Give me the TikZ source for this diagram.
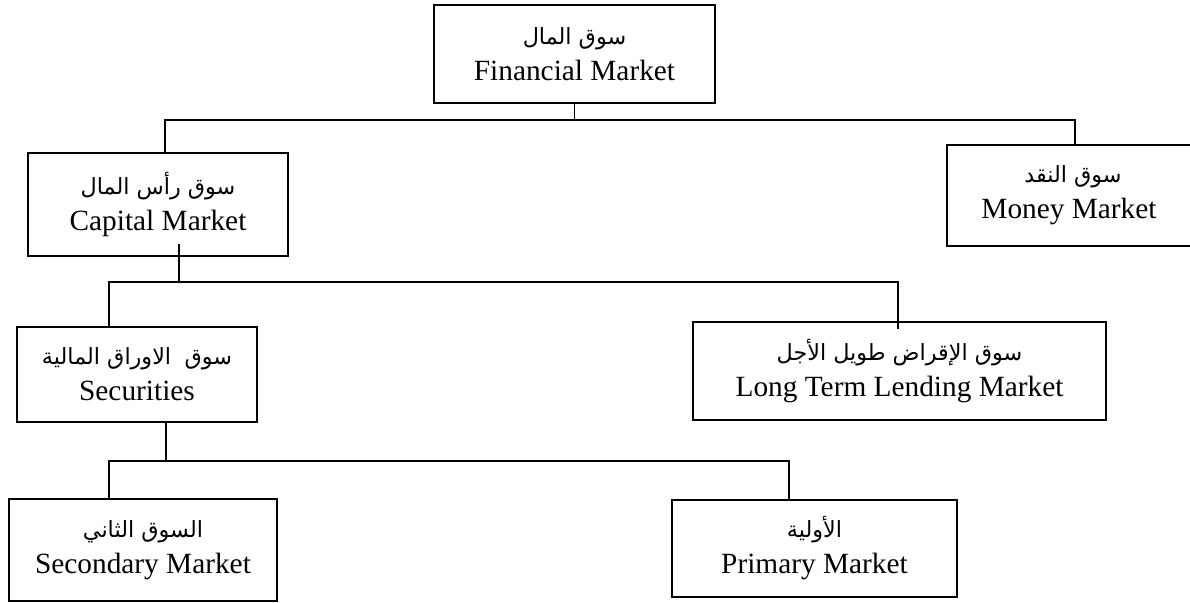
\documentclass[tikz,border=0pt]{standalone}
\usepackage{fontspec}
\setmainfont{Liberation Serif}
\newfontfamily\arabicfont[Script=Arabic,Scale=0.76]{DejaVu Sans}
\TeXXeTstate=1
\newcommand{\ar}[1]{{\arabicfont\beginR #1\endR}}

\tikzset{
  mbox/.style 2 args={draw, line width=1.1pt, rectangle, align=center,
    minimum width=#1*0.75pt, minimum height=#2*0.75pt, inner sep=0pt,
    font=\fontsize{22}{27}\selectfont},
  link/.style={line width=1.1pt}
}

\begin{document}
\begin{tikzpicture}[x=0.75pt,y=0.75pt,yscale=-1,xscale=1]
\useasboundingbox (0,0) rectangle (1190,603);

%Shape: Rectangle
\node (fin) [mbox={281}{98}] at (574.5,54) {\ar{سوق المال}\\Financial Market};
\node (cap) [mbox={260}{103}] at (158,204.5) {\ar{سوق رأس المال}\\Capital Market};
\node (money) [mbox={252}{101}] at (1073,195.5) {\ar{سوق النقد}\\\hspace*{-6pt}Money Market};
\node (sec) [mbox={240}{95}] at (137,374.5) {\ar{سوق\hspace{0.6em}الاوراق المالية}\\Securities};
\node (long) [mbox={413}{98}] at (899.5,371) {\ar{سوق الإقراض طويل الأجل}\\Long Term Lending Market};
\node (scd) [mbox={268}{102}] at (143,550) {\ar{السوق الثاني}\\Secondary Market};
\node (prim) [mbox={285}{97}] at (814.5,548.5) {\ar{الأولية}\\Primary Market};

%Bus points
\coordinate (busL) at (165,120);
\coordinate (busR) at (1075,120);
\coordinate (capdrop) at (179,282);
\coordinate (busTwoL) at (109,282);
\coordinate (busTwoR) at (898,282);
\coordinate (secdrop) at (166,461);
\coordinate (busThreeL) at (109,461);
\coordinate (busThreeR) at (789,461);

%Straight Lines
\draw [link] (fin.south) -- (fin.south |- busL);
\draw [link] (cap.north -| busL) -- (busL) -- (busR) -- (busR |- money.north);
%Straight Lines
\draw [link] ([yshift=-9.75pt]cap.south -| capdrop) -- (capdrop);
\draw [link] (sec.north -| busTwoL) -- (busTwoL) -- (busTwoR) -- ([yshift=6pt]busTwoR |- long.north);
%Straight Lines
\draw [link] (sec.south -| secdrop) -- (secdrop);
\draw [link] (scd.north -| busThreeL) -- (busThreeL) -- (busThreeR) -- (busThreeR |- prim.north);

\end{tikzpicture}
\end{document}
